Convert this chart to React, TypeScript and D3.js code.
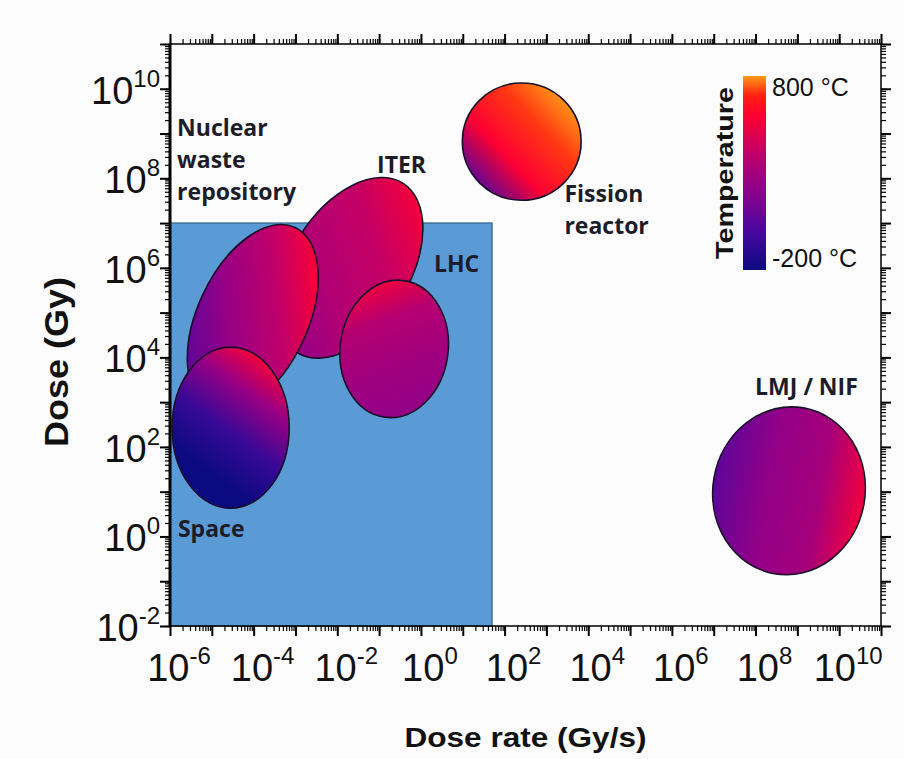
import React, { useEffect, useRef } from "react";
import * as d3 from "d3";

const W = 904;
const H = 759;

// axis extents
const xDomain = [1e-6, 1e11];
const yDomain = [1e-2, 1e11];
const xLabelExp = [-6, -4, -2, 0, 2, 4, 6, 8, 10];
const yLabelExp = [-2, 0, 2, 4, 6, 8, 10];

// shaded box (dose rate / dose limits)
const boxX = [1e-6, 50];
const boxY = [1e-2, 1e7];

// temperature colour bar
const tempStops = [-200, 0, 200, 400, 600, 700, 800];
const tempColors = ["#0c0a80", "#4a08a0", "#8a008c", "#c0006a", "#ff0030", "#ff2010", "#ff9a18"];
const tempLabels = ["800 °C", "-200 °C"];

// regions, drawn in this order (centres / half widths in decades)
const regions = ["iter", "waste", "lhc", "space", "fission", "lmj"];
const centreX = [-1.7, -4.02, -0.64, -4.55, 2.41, 8.8];
const centreY = [6.0, 4.88, 4.19, 2.43, 8.82, 1.02];
const halfX = [1.42, 1.32, 1.29, 1.4, 1.42, 1.82];
const halfY = [2.23, 2.23, 1.54, 1.8, 1.31, 1.88];
const tilt = [32, 25, 8, 0, 0, 10];
// temperature across each region, low -> high along its gradient
const regionTemps = [
  [220, 340, 420, 570],
  [60, 250, 400, 580],
  [230, 280, 360, 580],
  [-200, -60, 250, 580],
  [0, 590, 720, 800],
  [60, 230, 300, 560],
];
const gradDir = [
  [0.3, 1, 0.75, 0.05],
  [0.1, 0.85, 0.8, 0.1],
  [0.65, 1, 0.25, 0],
  [0.45, 0.85, 0.85, 0.1],
  [0.1, 0.9, 0.9, 0.15],
  [0, 0.5, 1, 0.5],
];
const gradOffsets = [0, 0.35, 0.7, 1];

// labels: [text lines, log10 x, log10 y]
const labelText = [["Nuclear", "waste", "repository"], ["ITER"], ["LHC"], ["Fission", "reactor"], ["LMJ / NIF"], ["Space"]];
const labelX = [-5.83, -1.05, 0.31, 3.43, 7.99, -5.81];
const labelY = [8.94, 8.12, 5.91, 7.47, 3.16, -0.01];

function App() {
  const svgRef = useRef<SVGSVGElement>(null);

  useEffect(() => {
    const svg = d3.select(svgRef.current);
    svg.selectAll("*").remove();

    const margin = { left: 170, right: 23, top: 44, bottom: 133 };
    const x = d3.scaleLog().domain(xDomain).range([margin.left, W - margin.right]);
    const y = d3.scaleLog().domain(yDomain).range([H - margin.bottom, margin.top]);
    const color = d3.scaleLinear<string>().domain(tempStops).range(tempColors);

    const defs = svg.append("defs");
    svg.append("rect").attr("width", W).attr("height", H).attr("fill", "#fcfcfc");

    // shaded box
    svg
      .append("rect")
      .attr("x", x(boxX[0]))
      .attr("y", y(boxY[1]))
      .attr("width", x(boxX[1]) - x(boxX[0]))
      .attr("height", y(boxY[0]) - y(boxY[1]))
      .attr("fill", "#5b9bd5")
      .attr("stroke", "#41719c")
      .attr("stroke-width", 1.5);

    // regions
    regions.forEach((id, i) => {
      const g = defs
        .append("linearGradient")
        .attr("id", "g-" + id)
        .attr("x1", gradDir[i][0])
        .attr("y1", gradDir[i][1])
        .attr("x2", gradDir[i][2])
        .attr("y2", gradDir[i][3]);
      regionTemps[i].forEach((t, k) => {
        g.append("stop").attr("offset", gradOffsets[k]).attr("stop-color", color(t));
      });
      const cx = x(10 ** centreX[i]);
      const cy = y(10 ** centreY[i]);
      const rx = x(10 ** (centreX[i] + halfX[i])) - cx;
      const ry = cy - y(10 ** (centreY[i] + halfY[i]));
      svg
        .append("ellipse")
        .attr("transform", `translate(${cx},${cy}) rotate(${tilt[i]})`)
        .attr("rx", rx)
        .attr("ry", ry)
        .attr("fill", `url(#g-${id})`)
        .attr("stroke", "#1a0f2a")
        .attr("stroke-width", 1.6);
    });

    // labels
    labelText.forEach((lines, i) => {
      const t = svg
        .append("text")
        .attr("x", x(10 ** labelX[i]))
        .attr("y", y(10 ** labelY[i]))
        .attr("font-family", "'Open Sans', sans-serif")
        .attr("font-weight", 700)
        .attr("font-size", 23)
        .attr("fill", "#1c1c2a");
      lines.forEach((l, k) => {
        t.append("tspan").attr("x", x(10 ** labelX[i])).attr("dy", k === 0 ? 0 : 32).text(l);
      });
    });

    // ticks
    const minorX = x.ticks(40);
    const minorY = y.ticks(40);
    const majorX = minorX.filter((v) => Math.abs(Math.log10(v) % 1) < 1e-9);
    const majorY = minorY.filter((v) => Math.abs(Math.log10(v) % 1) < 1e-9);
    const none = () => "";
    const tickAxis = (axis, vals, size, pos, w) =>
      svg
        .append("g")
        .attr("transform", pos)
        .call(axis.tickValues(vals).tickSize(size).tickFormat(none))
        .call((g) => g.select(".domain").remove())
        .call((g) => g.selectAll("line").attr("stroke", "#000").attr("stroke-width", w));

    const bottomY = y(yDomain[0]);
    const rightX = x(xDomain[1]);
    tickAxis(d3.axisBottom(x), minorX, 5, `translate(0,${bottomY})`, 1.2);
    tickAxis(d3.axisBottom(x), majorX, 10, `translate(0,${bottomY})`, 2);
    tickAxis(d3.axisTop(x), minorX, 5, `translate(0,${margin.top})`, 1.2);
    tickAxis(d3.axisTop(x), majorX, 10, `translate(0,${margin.top})`, 2);
    tickAxis(d3.axisLeft(y), minorY, 5, `translate(${margin.left},0)`, 1.2);
    tickAxis(d3.axisLeft(y), majorY, 10, `translate(${margin.left},0)`, 2);
    tickAxis(d3.axisRight(y), minorY, 5, `translate(${rightX},0)`, 1.2);
    tickAxis(d3.axisRight(y), majorY, 10, `translate(${rightX},0)`, 2);

    // frame
    svg
      .append("rect")
      .attr("x", margin.left)
      .attr("y", margin.top)
      .attr("width", rightX - margin.left)
      .attr("height", bottomY - margin.top)
      .attr("fill", "none")
      .attr("stroke", "#000")
      .attr("stroke-width", 1.5);
    svg
      .append("line")
      .attr("x1", margin.left)
      .attr("x2", margin.left)
      .attr("y1", margin.top)
      .attr("y2", bottomY)
      .attr("stroke", "#000")
      .attr("stroke-width", 3);

    // tick labels
    const font = "'Liberation Sans', Arial, sans-serif";
    xLabelExp.forEach((e) => {
      const t = svg
        .append("text")
        .attr("x", x(10 ** e) + 9)
        .attr("y", bottomY + 55)
        .attr("text-anchor", "middle")
        .attr("font-family", font)
        .attr("fill", "#111");
      t.append("tspan").attr("font-size", 38).text("10");
      t.append("tspan").attr("font-size", 24).attr("dy", -17).text(e);
    });
    yLabelExp.forEach((e) => {
      const t = svg
        .append("text")
        .attr("x", margin.left - 10)
        .attr("y", y(10 ** e) + 15)
        .attr("text-anchor", "end")
        .attr("font-family", font)
        .attr("fill", "#111");
      t.append("tspan").attr("font-size", 38).text("10");
      t.append("tspan").attr("font-size", 24).attr("dy", -17).text(e);
    });

    // axis titles
    svg
      .append("text")
      .attr("x", (margin.left + rightX) / 2)
      .attr("y", H - 12)
      .attr("text-anchor", "middle")
      .attr("font-family", font)
      .attr("font-weight", 700)
      .attr("font-size", 28)
      .attr("textLength", 242)
      .attr("lengthAdjust", "spacingAndGlyphs")
      .attr("fill", "#111")
      .text("Dose rate (Gy/s)");
    svg
      .append("text")
      .attr("transform", `translate(68,${(margin.top + bottomY) / 2 + 27}) rotate(-90)`)
      .attr("text-anchor", "middle")
      .attr("font-family", font)
      .attr("font-weight", 700)
      .attr("font-size", 33)
      .attr("textLength", 170)
      .attr("lengthAdjust", "spacingAndGlyphs")
      .attr("fill", "#111")
      .text("Dose (Gy)");

    // colour bar
    const cb = d3.scaleLinear().domain([tempStops[0], tempStops[tempStops.length - 1]]).range([270, 76]);
    const cg = defs.append("linearGradient").attr("id", "cbar").attr("x1", 0).attr("y1", 1).attr("x2", 0).attr("y2", 0);
    tempStops.forEach((t, k) => {
      cg.append("stop")
        .attr("offset", (t - tempStops[0]) / (tempStops[tempStops.length - 1] - tempStops[0]))
        .attr("stop-color", tempColors[k]);
    });
    svg
      .append("rect")
      .attr("x", 743)
      .attr("y", cb(800))
      .attr("width", 23)
      .attr("height", cb(-200) - cb(800))
      .attr("fill", "url(#cbar)");
    [800, -200].forEach((t, k) => {
      svg
        .append("text")
        .attr("x", 772)
        .attr("y", cb(t) + (k === 0 ? 20 : -3))
        .attr("font-family", font)
        .attr("font-size", 25)
        .attr("fill", "#111")
        .text(tempLabels[k]);
    });
    svg
      .append("text")
      .attr("transform", `translate(733,${(cb(800) + cb(-200)) / 2}) rotate(-90)`)
      .attr("text-anchor", "middle")
      .attr("font-family", font)
      .attr("font-weight", 700)
      .attr("font-size", 24)
      .attr("textLength", 172)
      .attr("lengthAdjust", "spacingAndGlyphs")
      .attr("fill", "#111")
      .text("Temperature");
  }, []);

  return (
    <svg
      ref={svgRef}
      width={W}
      height={H}
      style={{ position: "absolute", left: 0, top: 0 }}
    />
  );
}

export default App;
